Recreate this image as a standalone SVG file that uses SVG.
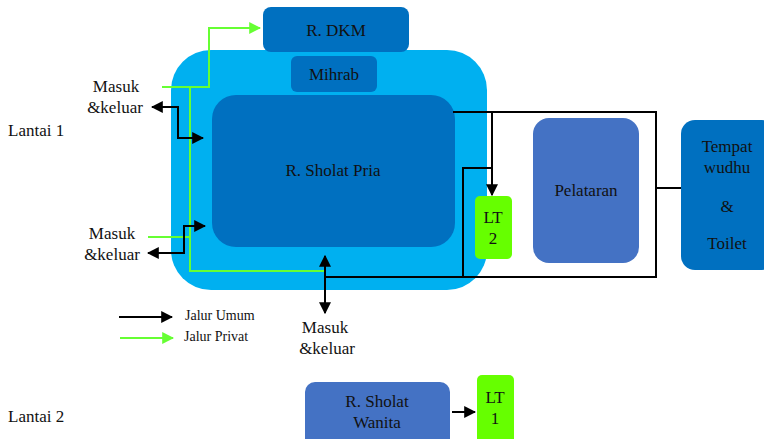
<svg xmlns="http://www.w3.org/2000/svg" width="764" height="439" viewBox="0 0 764 439">
<defs>
<marker id="ab" viewBox="0 0 10 10" refX="9" refY="5" markerWidth="6" markerHeight="6" orient="auto-start-reverse" markerUnits="strokeWidth"><path d="M0,0 L10,5 L0,10 z" fill="#000"/></marker>
<marker id="ag" viewBox="0 0 10 10" refX="9" refY="5" markerWidth="6" markerHeight="6" orient="auto-start-reverse" markerUnits="strokeWidth"><path d="M0,0 L10,5 L0,10 z" fill="#66FF33"/></marker>
</defs>
<style>
text{font-family:"Liberation Serif","Times New Roman",serif;font-size:17px;fill:#111;}
.c{text-anchor:middle;}
.s{font-size:14px;}
.blk{fill:none;stroke:#000;stroke-width:2;}
.grn{fill:none;stroke:#66FF33;stroke-width:2;}
.dk{fill:#0070C0;}
.md{fill:#4472C4;}
.lt{fill:#66FF00;}
</style>
<rect width="764" height="439" fill="#fff"/>
<g id="outer"><rect x="171" y="50" width="316" height="240" rx="40" fill="#00B0F0"/></g>
<g id="dkm"><rect class="dk" x="263" y="7" width="146" height="45" rx="8"/><text class="c" x="336" y="36">R. DKM</text></g>
<g id="mihrab"><rect class="dk" x="291" y="56" width="86" height="36" rx="6"/><text class="c" x="334" y="80">Mihrab</text></g>
<g id="pria"><rect class="dk" x="212" y="95" width="243" height="152" rx="24"/><text class="c" x="333" y="176">R. Sholat Pria</text></g>
<g id="pelataran"><rect class="md" x="533" y="118" width="106" height="145" rx="16"/><text class="c" x="586" y="196">Pelataran</text></g>
<g id="wudhu"><rect class="dk" x="681" y="120" width="95" height="150" rx="14"/><text class="c" x="727" y="152">Tempat</text><text class="c" x="727" y="173">wudhu</text><text class="c" x="727" y="212">&amp;</text><text class="c" x="727" y="249">Toilet</text></g>
<g id="lt2"><rect class="lt" x="475" y="196" width="37" height="63" rx="5"/><text class="c" x="493" y="223">LT</text><text class="c" x="493" y="244">2</text></g>
<g id="wanita"><rect class="md" x="305" y="382" width="145" height="70" rx="10"/><text class="c" x="377" y="407">R. Sholat</text><text class="c" x="377" y="428">Wanita</text></g>
<g id="lt1"><rect class="lt" x="477" y="375" width="37" height="70" rx="5"/><text class="c" x="495" y="403">LT</text><text class="c" x="495" y="424">1</text></g>
<g id="labels">
<text x="8" y="136">Lantai 1</text>
<text x="8" y="422">Lantai 2</text>
<text class="c" x="116" y="92">Masuk</text><text class="c" x="115" y="113">&amp;keluar</text>
<text class="c" x="112" y="239">Masuk</text><text class="c" x="112" y="260">&amp;keluar</text>
<text class="c" x="325" y="333">Masuk</text><text class="c" x="327" y="354">&amp;keluar</text>
<text class="s" x="185" y="320">Jalur  Umum</text>
<text class="s" x="184" y="341">Jalur  Privat</text>
</g>
<g id="connectors">
<path class="grn" d="M162,87 H209 V28 H260" marker-end="url(#ag)"/>
<path class="grn" d="M190,87 V271 H325"/>
<path class="grn" d="M148,237 H190"/>
<path class="blk" d="M152,107 H178 V138 H203" marker-start="url(#ab)" marker-end="url(#ab)"/>
<path class="blk" d="M148,253 H184 V226 H205" marker-start="url(#ab)" marker-end="url(#ab)"/>
<path class="blk" d="M325,256 V313" marker-start="url(#ab)" marker-end="url(#ab)"/>
<path class="blk" d="M453,112 H656 V277 H325"/>
<path class="blk" d="M492,112 V195" marker-end="url(#ab)"/>
<path class="blk" d="M492,168 H463 V277"/>
<path class="blk" d="M656,188 H681"/>
<path class="blk" d="M452,412 H475" marker-end="url(#ab)"/>
<path class="blk" d="M119,317 H172" marker-end="url(#ab)"/>
<path class="grn" d="M120,338 H173" marker-end="url(#ag)"/>
</g>
</svg>
